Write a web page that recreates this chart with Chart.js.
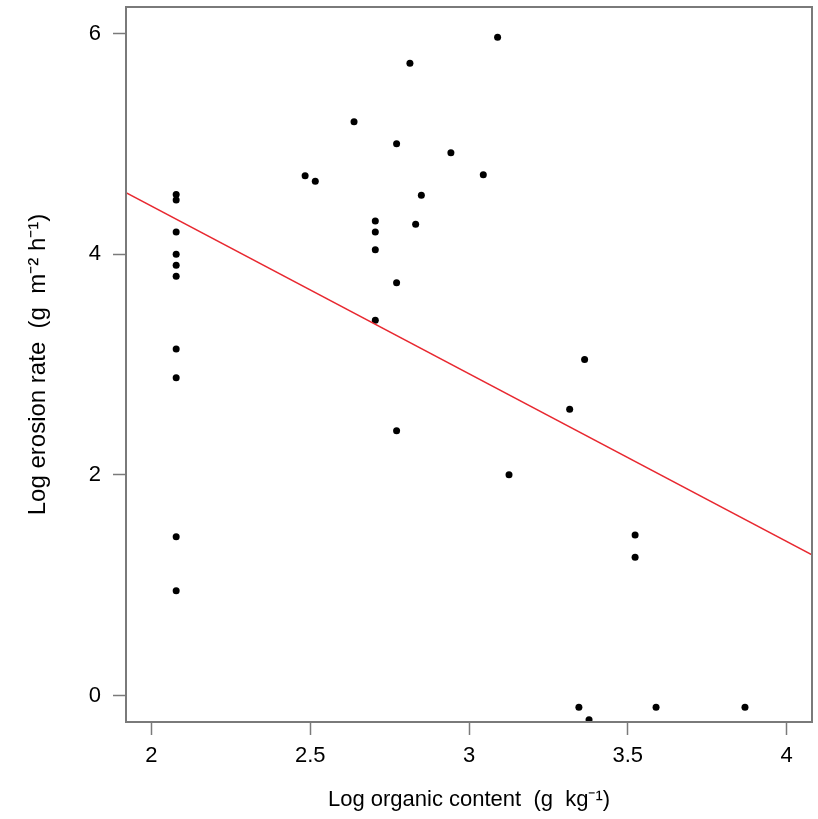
<!DOCTYPE html>
<html>
<head>
<meta charset="utf-8">
<script src="https://cdn.jsdelivr.net/npm/chart.js@4"></script>
<style>
  html, body { margin: 0; padding: 0; background: #fff; }
  #wrap { width: 818px; height: 819px; }
</style>
</head>
<body>
<div id="wrap"><canvas id="chart" width="818" height="819"></canvas></div>
<script>
// values
const organic = [2.078, 2.078, 2.078, 2.078, 2.078, 2.078, 2.078, 2.078, 2.078, 2.078,
                 2.484, 2.516, 2.638, 2.705, 2.705, 2.705, 2.705, 2.772, 2.772, 2.772,
                 2.814, 2.832, 2.850, 2.943, 3.045, 3.090, 3.126, 3.317, 3.364,
                 3.523, 3.523, 3.346, 3.378, 3.589, 3.869];
const erosion = [4.54, 4.49, 4.20, 4.00, 3.90, 3.80, 3.14, 2.88, 1.44, 0.95,
                 4.71, 4.66, 5.20, 4.30, 4.20, 4.04, 3.40, 5.00, 3.74, 2.40,
                 5.73, 4.27, 4.535, 4.92, 4.72, 5.965, 2.00, 2.595, 3.046,
                 1.455, 1.252, -0.106, -0.22, -0.106, -0.106];

// fitted line (intercept, slope)
const fitIntercept = 7.473;
const fitSlope = -1.519;

const xTicks = [2, 2.5, 3, 3.5, 4];
const yTicks = [0, 2, 4, 6];
const xRange = [1.92, 4.08];
const yRange = [-0.24, 6.24];

const points = organic.map((x, i) => ({ x: x, y: erosion[i] }));
const fitLine = xRange.map(x => ({ x: x, y: fitIntercept + fitSlope * x }));

const frameColor = '#7a7a7a';

const boxPlugin = {
    id: 'box',
    afterDatasetsDraw(chart) {
        const a = chart.chartArea;
        const ctx = chart.ctx;
        ctx.save();
        ctx.strokeStyle = frameColor;
        ctx.lineWidth = 2;
        ctx.strokeRect(a.left, a.top, a.right - a.left, a.bottom - a.top);
        ctx.restore();
    }
};

new Chart(document.getElementById('chart'), {
    type: 'scatter',
    data: {
        datasets: [
            {
                label: 'fit',
                type: 'line',
                data: fitLine,
                borderColor: 'rgb(232, 40, 48)',
                borderWidth: 1.5,
                pointRadius: 0,
                fill: false
            },
            {
                label: 'samples',
                data: points,
                backgroundColor: '#000',
                borderColor: '#000',
                pointRadius: 3.5,
                borderWidth: 0,
                clip: 0
            }
        ]
    },
    options: {
        responsive: false,
        animation: false,
        events: [],
        layout: { padding: { left: 0, top: 7, right: 6, bottom: 0 } },
        plugins: {
            legend: { display: false },
            tooltip: { enabled: false }
        },
        scales: {
            x: {
                type: 'linear',
                min: xRange[0],
                max: xRange[1],
                afterBuildTicks: s => { s.ticks = xTicks.map(v => ({ value: v })); },
                afterFit: s => { s.height = 97; s.paddingLeft = 0; s.paddingRight = 0; },
                border: { display: false },
                grid: {
                    drawOnChartArea: false,
                    drawTicks: true,
                    tickLength: 13,
                    tickWidth: 1.5,
                    color: frameColor
                },
                ticks: {
                    color: '#000',
                    padding: 8,
                    callback: v => String(v),
                    font: { family: 'Liberation Sans, Arial', size: 22 }
                },
                title: {
                    display: true,
                    text: 'Log organic content  (g  kg\u207B\u00B9)',
                    color: '#000',
                    font: { family: 'Liberation Sans, Arial', size: 22 },
                    padding: { top: 0, bottom: 6 }
                }
            },
            y: {
                type: 'linear',
                min: yRange[0],
                max: yRange[1],
                afterBuildTicks: s => { s.ticks = yTicks.map(v => ({ value: v })); },
                afterFit: s => { s.width = 126; s.paddingTop = 0; s.paddingBottom = 0; },
                border: { display: false },
                grid: {
                    drawOnChartArea: false,
                    drawTicks: true,
                    tickLength: 13,
                    tickWidth: 1.5,
                    color: frameColor
                },
                ticks: {
                    color: '#000',
                    padding: 12,
                    callback: v => String(v),
                    font: { family: 'Liberation Sans, Arial', size: 22 }
                },
                title: {
                    display: true,
                    text: 'Log erosion rate  (g  m\u207B\u00B2 h\u207B\u00B9)',
                    color: '#000',
                    font: { family: 'Liberation Sans, Arial', size: 24 },
                    padding: { top: 24, bottom: 0 }
                }
            }
        }
    },
    plugins: [boxPlugin]
});
</script>
</body>
</html>
